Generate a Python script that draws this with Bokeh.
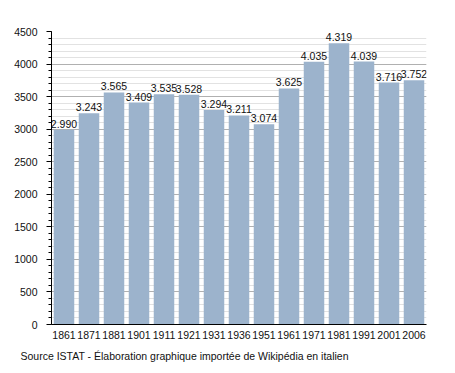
from bokeh.plotting import figure
from bokeh.models import ColumnDataSource, Range1d, Title, SingleIntervalTicker, FactorRange
from bokeh.core.properties import value
from bokeh.embed import file_html
from bokeh.resources import INLINE

years = ["1861", "1871", "1881", "1901", "1911", "1921", "1931", "1936",
         "1951", "1961", "1971", "1981", "1991", "2001", "2006"]
population = [2990, 3243, 3565, 3409, 3535, 3528, 3294, 3211,
              3074, 3625, 4035, 4319, 4039, 3716, 3752]
labels = ["{:,}".format(v).replace(",", ".") for v in population]
source_note = "Source ISTAT - Élaboration graphique importée de Wikipédia en italien"

src = ColumnDataSource(dict(x=years, top=population, label=labels))

p = figure(x_range=FactorRange(*years, range_padding=0), y_range=Range1d(0, 4500),
           width=447, height=373, output_backend="svg", toolbar_location=None,
           min_border_left=51, min_border_right=21, min_border_top=31, min_border_bottom=49)
p.outline_line_color = None
p.background_fill_color = "white"

p.vbar(x="x", top="top", width=0.82, source=src, fill_color="#9cb3cc", line_color=None)
p.text(x="x", y="top", text="label", source=src, text_align="center",
       text_baseline="bottom", text_font_size="10.5px", y_offset=-2,
       text_color="#111111", text_font=value("Liberation Sans"))

p.yaxis.ticker = SingleIntervalTicker(interval=500, num_minor_ticks=5)
p.ygrid.grid_line_color = "#b0b0b0"
p.ygrid.minor_grid_line_color = "#e2e2e2"
p.xgrid.grid_line_color = None
p.yaxis.axis_line_color = "black"
p.yaxis.major_tick_line_color = "black"
p.yaxis.minor_tick_line_color = "black"
p.yaxis.major_tick_out = 5
p.yaxis.major_tick_in = 0
p.yaxis.minor_tick_out = 3
p.yaxis.minor_tick_in = 0
p.yaxis.major_label_text_font = "Liberation Sans"
p.yaxis.major_label_text_font_size = "10.5px"
p.yaxis.major_label_text_color = "#111111"
p.yaxis.major_label_standoff = 9
p.xaxis.axis_line_color = "black"
p.xaxis.major_tick_line_color = None
p.xaxis.minor_tick_line_color = None
p.xaxis.major_label_text_font = "Liberation Sans"
p.xaxis.major_label_text_font_size = "10.5px"
p.xaxis.major_label_text_color = "#111111"
p.xaxis.major_label_standoff = 0

note = Title(text=source_note, align="left", offset=-31, standoff=13,
             text_font="Liberation Sans", text_font_size="10.5px",
             text_font_style="normal", text_color="#111111")
p.add_layout(note, "below")

open("out.html", "w").write(file_html(p, INLINE))
